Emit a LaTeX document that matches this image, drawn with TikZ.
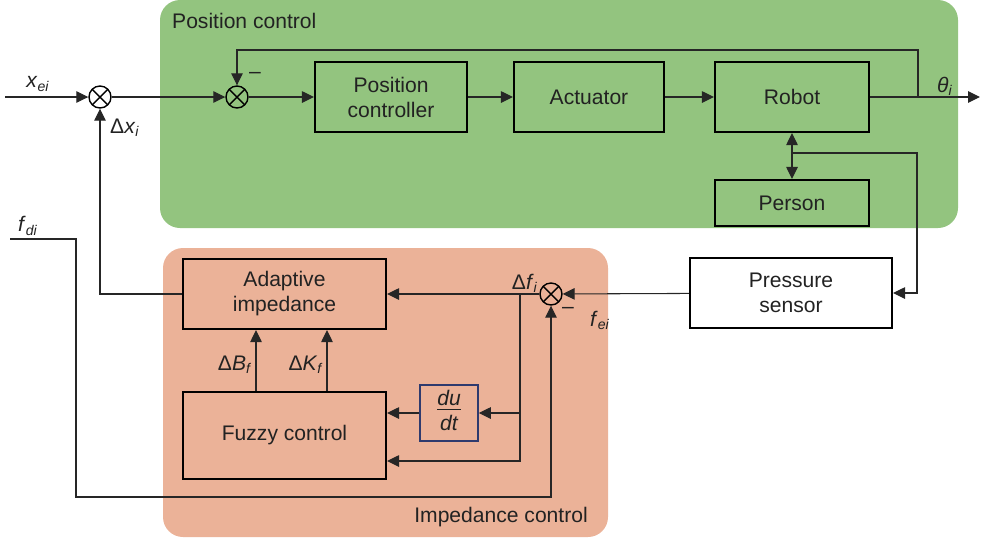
\documentclass[tikz,border=0pt]{standalone}
\usepackage{fontspec}
\setmainfont{Liberation Sans}
\usetikzlibrary{arrows.meta}

\definecolor{verde}{HTML}{93C47F}
\definecolor{naranja}{HTML}{EBB298}
\definecolor{azul}{HTML}{2E3A6E}
\definecolor{tinta}{HTML}{222222}

% variable en cursiva con subindice
\newcommand{\var}[2]{\textit{#1}\textsubscript{\textit{#2}}}

\begin{document}
\begin{tikzpicture}
  [x=0.02cm,y=-0.02cm,>={Triangle[length=2.4mm,width=2.3mm]},
   every node/.style={text=tinta,font=\fontsize{12}{14.2}\selectfont},
   bloque/.style={draw=black,line width=1.2pt,align=center,inner sep=0pt},
   suma/.style={circle,draw=black,line width=0.8pt,minimum size=0.44cm,inner sep=0pt,
     path picture={\draw[line width=0.8pt] (path picture bounding box.north west) -- (path picture bounding box.south east)
       (path picture bounding box.north east) -- (path picture bounding box.south west);}},
   lbl/.style={inner sep=1pt},
   linea/.style={draw=black!85,line width=0.6pt}]
  \useasboundingbox (0,0) rectangle (981,539);

  % zonas de fondo
  \fill[verde,rounded corners=0.4cm] (160,0) rectangle (958,228);
  \fill[naranja,rounded corners=0.4cm] (163,248) rectangle (608,537);
  \node[anchor=west] (tpos) at (166,21) {Position control};
  \node[anchor=east] (timp) at (594,517) {Impedance control};

  % bloques
  \node[bloque,minimum width=3.04cm,minimum height=1.4cm] (pc) at (391,97) {Position\\controller};
  \node[bloque,minimum width=3.0cm,minimum height=1.4cm] (act) at (589,97) {Actuator};
  \node[bloque,minimum width=3.08cm,minimum height=1.4cm] (rob) at (792,97) {Robot};
  \node[bloque,minimum width=3.08cm,minimum height=0.92cm] (per) at (792,203) {Person};
  \node[bloque,minimum width=4.04cm,minimum height=1.4cm] (ps) at (791,293) {Pressure\\sensor};
  \node[bloque,minimum width=4.06cm,minimum height=1.4cm] (ai) at (284.5,294) {Adaptive\\impedance};
  \node[bloque,minimum width=4.06cm,minimum height=1.74cm] (fz) at (284.5,435.5) {Fuzzy control};
  \node[bloque,draw=azul,line width=0.9pt,minimum width=1.16cm,minimum height=1.12cm] (dudt) at (449,413)
    {\begin{tabular}{@{}c@{}}\itshape du\\[-2pt]\hline\rule{0pt}{12pt}\itshape dt\end{tabular}};

  % sumadores
  \node[suma] (s1) at (100,97) {};
  \node[suma] (s2) at (237,97) {};
  \node[suma] (s3) at (551,294) {};

  % puntos libres
  \coordinate (xin) at (5,97);
  \coordinate (out) at (980,97);
  \coordinate (fb) at (918,97);
  \coordinate (rp) at (792,153);
  \coordinate (c1) at (917,153);
  \coordinate (br) at (520,294);
  \coordinate (fdi) at (10,239);

  % lazo de posicion
  \foreach \from/\to in {xin/s1, s1/s2, s2/pc, pc/act, act/rob, rob/out, ps/s3, s3/ai}
    \draw[linea,->] (\from) -- (\to);
  \draw[linea,->] (fb) -- ++(0,-47) -| (s2);
  \draw[linea,<->] (rob) -- (per);
  \draw[linea,->] (rp) -- (c1) |- (ps);

  % lazo de impedancia
  \draw[linea,->] (br) |- (dudt);
  \draw[linea,->] (br) |- ([yshift=-0.51cm]fz.east);
  \draw[linea,->] (dudt) -- (dudt -| fz.east);
  \draw[linea,->] ([xshift=-0.57cm]fz.north) -- ([xshift=-0.57cm]ai.south);
  \draw[linea,->] ([xshift=0.85cm]fz.north) -- ([xshift=0.85cm]ai.south);
  \draw[linea,->] (ai) -| (s1);
  \draw[linea,->] (fdi) -| (76,497) -| (s3);

  % etiquetas
  \node[lbl] (lxei) at (38,84) {\var{x}{ei}};
  \node[lbl] (ldx) at (125,128) {Δ\var{x}{i}};
  \node[lbl] (lth) at (945,86) {\var{θ}{i}};
  \node[lbl] (lm1) at (255,75) {–};
  \node[lbl] (ldf) at (525,283) {Δ\var{f}{i}};
  \node[lbl] (lm2) at (568,310) {–};
  \node[lbl] (lfei) at (600,320) {\var{f}{ei}};
  \node[lbl] (lfdi) at (28,226) {\var{f}{di}};
  \node[lbl] (ldb) at (235,365) {Δ\var{B}{f}};
  \node[lbl] (ldk) at (306,365) {Δ\var{K}{f}};
\end{tikzpicture}
\end{document}
